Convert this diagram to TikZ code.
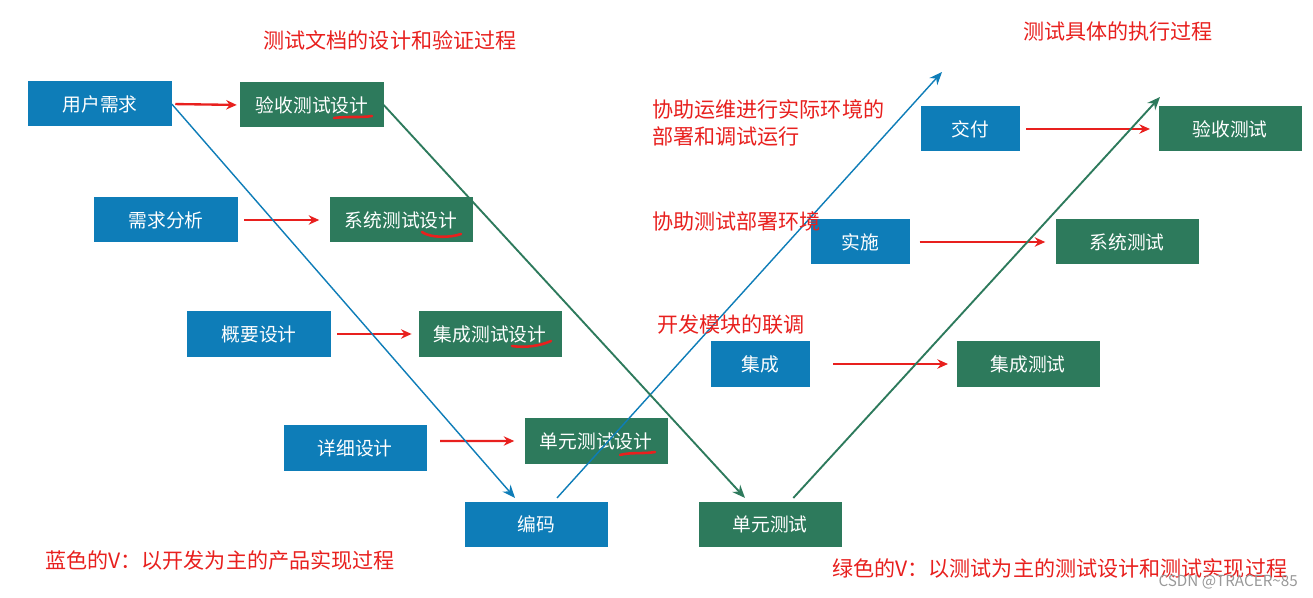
\documentclass[tikz,border=0pt]{standalone}
\usepackage{fontspec}
\setmainfont{Noto Sans CJK SC}
\usetikzlibrary{arrows.meta}
\definecolor{vblue}{HTML}{0E7DB8}
\definecolor{vgreen}{HTML}{2D7A5C}
\definecolor{vred}{HTML}{E8201E}
\tikzset{
 bx/.style={draw=none,text=white,font=\fontsize{16}{18}\selectfont,minimum width=4.29cm,minimum height=1.35cm,inner sep=0pt},
 bb/.style={bx,fill=vblue},
 gb/.style={bx,fill=vgreen},
 sm/.style={minimum width=2.97cm},
 rarr/.style={draw=vred,line width=2pt,-{Stealth[length=9pt,width=8pt]}},
 barr/.style={draw=vblue,line width=1.2pt,-{Stealth[length=11pt,width=9pt]}},
 garr/.style={draw=vgreen,line width=1.6pt,-{Stealth[length=11pt,width=9pt]}},
 rtext/.style={text=vred,font=\fontsize{18}{23}\selectfont,inner sep=0pt},
 uline/.style={draw=vred,line width=2.2pt,line cap=round}
}
\begin{document}
\begin{tikzpicture}[x=0.03cm,y=-0.03cm]
\useasboundingbox[fill=white] (0,0) rectangle (1313,598);
\node[bb] (yh) at (100,104) {用户需求};
\node[gb] (ys) at (312,105) {验收测试设计};
\node[bb] (xq) at (166,220) {需求分析};
\node[gb] (xs) at (401,220) {系统测试设计};
\node[bb] (gy) at (259,334) {概要设计};
\node[gb] (js) at (490,334) {集成测试设计};
\node[bb] (xx) at (355,448) {详细设计};
\node[gb] (ds) at (596,441) {单元测试设计};
\node[bb] (bm) at (536,524) {编码};
\node[gb] (dy) at (770,524) {单元测试};
\node[bb,sm] (jf) at (970,129) {交付};
\node[gb] (yc) at (1230,129) {验收测试};
\node[bb,sm] (ss) at (860,242) {实施};
\node[gb] (xc) at (1127,242) {系统测试};
\node[bb,sm] (jc) at (760,364) {集成};
\node[gb] (jt) at (1028,364) {集成测试};
\coordinate (btop) at (942,72);
\coordinate (gtop) at (1160,97);
% red arrows
\draw[rarr,shorten <=3pt,shorten >=3pt] (yh.east) -- (ys.west);
\draw[rarr,shorten <=0.2cm,shorten >=0.3cm] (xq.east) -- (xs.west);
\draw[rarr,shorten <=0.2cm,shorten >=0.2cm] (gy.east) -- (js.west);
\draw[rarr,shorten <=0.4cm,shorten >=0.3cm] ([yshift=0.21cm]xx.east) -- (ds.west);
\draw[rarr,shorten <=0.2cm,shorten >=0.25cm] (jf.east) -- (yc.west);
\draw[rarr,shorten <=0.3cm,shorten >=0.3cm] (ss.east) -- (xc.west);
\draw[rarr,shorten <=0.7cm,shorten >=0.25cm] (jc.east) -- (jt.west);
% V lines
\draw[barr] (yh.east) -- ([xshift=-0.63cm,yshift=0.1cm]bm.north);
\draw[barr] ([xshift=0.63cm,yshift=0.1cm]bm.north) -- (btop);
\draw[garr] (ys.east) -- ([xshift=-0.75cm,yshift=0.1cm]dy.north);
\draw[garr] ([xshift=0.7cm,yshift=0.1cm]dy.north) -- (gtop);
% underlines
\draw[uline] (334,118) .. controls (350,116) and (360,118) .. (372,116);
\draw[uline] (422,232) .. controls (430,238) and (450,238) .. (461,234);
\draw[uline] (512,346) .. controls (525,348) and (540,346) .. (551,341);
\draw[uline] (620,455) .. controls (630,452) and (645,454) .. (655,452);
% texts
\node[rtext] (t1) at (390,40) {测试文档的设计和验证过程};
\node[rtext] (t2) at (1118,31) {测试具体的执行过程};
\node[rtext,anchor=west,align=left] (t3) at (652,123) {协助运维进行实际环境的\\部署和调试运行};
\node[rtext,anchor=west] (t4) at (652,221) {协助测试部署环境};
\node[rtext,anchor=west] (t5) at (657,325) {开发模块的联调};
\node[rtext,anchor=west] (t6) at (45,560) {蓝色的V：以开发为主的产品实现过程};
\node[rtext,anchor=west] (t7) at (832,568) {绿色的V：以测试为主的测试设计和测试实现过程};
\node[text=gray!80,font=\fontsize{13}{15}\selectfont,anchor=east,inner sep=0pt] (wm) at (1298,582) {CSDN @TRACER\textasciitilde 85};
\end{tikzpicture}
\end{document}
